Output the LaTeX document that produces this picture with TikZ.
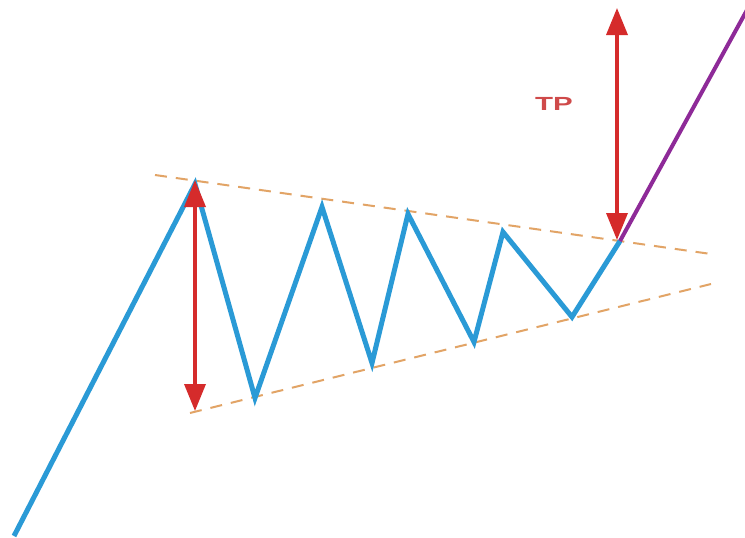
\documentclass[tikz,border=0pt]{standalone}
\usepackage{fontspec}
\setmainfont{Liberation Sans}
\usetikzlibrary{arrows.meta}
\definecolor{wave}{HTML}{2A9AD6}
\definecolor{arr}{HTML}{D52B2B}
\definecolor{brk}{HTML}{8E2A98}
\definecolor{trend}{HTML}{E2A466}
\definecolor{tptext}{HTML}{CF4A4A}
\tikzset{
  x=1pt,y=-1pt,
  waveline/.style={draw=wave,line width=5pt,line join=miter,line cap=butt},
  breakline/.style={draw=brk,line width=4pt},
  trendline/.style={draw=trend,line width=2pt,dash pattern=on 12pt off 9pt},
  measure/.style={draw=arr,line width=3.5pt,{Triangle[width=21pt,length=27pt]}-{Triangle[width=21pt,length=27pt]}},
  lbl/.style={text=tptext,font=\bfseries\fontsize{19}{19}\selectfont,inner sep=0pt}
}
\begin{document}
\begin{tikzpicture}
\useasboundingbox[fill=white] (0,0) rectangle (745,538);
% trend lines
\coordinate (u1) at (155,175);
\coordinate (u2) at (711,254);
\coordinate (l1) at (190,413);
\coordinate (l2) at (711,284);
\draw[trendline] (u1) -- (u2);
\draw[trendline] (l1) -- (l2);
% wave
\coordinate (s) at (14,536);
\coordinate (p1) at (195,184);
\coordinate (t1) at (255,398);
\coordinate (p2) at (322,207);
\coordinate (t2) at (372,363);
\coordinate (p3) at (408,214);
\coordinate (t3) at (474,342);
\coordinate (p4) at (503,232);
\coordinate (t4) at (572,317);
\coordinate (b) at (620,241);
\coordinate (e) at (747,10);
\draw[waveline] (s) -- (p1) -- (t1) -- (p2) -- (t2) -- (p3) -- (t3) -- (p4) -- (t4) -- (b);
\draw[breakline] (b) -- (e);
% measures
\coordinate (m1a) at (195,180);
\coordinate (m1b) at (195,411);
\coordinate (m2a) at (617,8);
\coordinate (m2b) at (617,240);
\draw[measure] (m1a) -- (m1b);
\draw[measure] (m2a) -- (m2b);
\node[lbl] (tp) at (554,104) {\scalebox{1.55}[1]{TP}};
\end{tikzpicture}
\end{document}
